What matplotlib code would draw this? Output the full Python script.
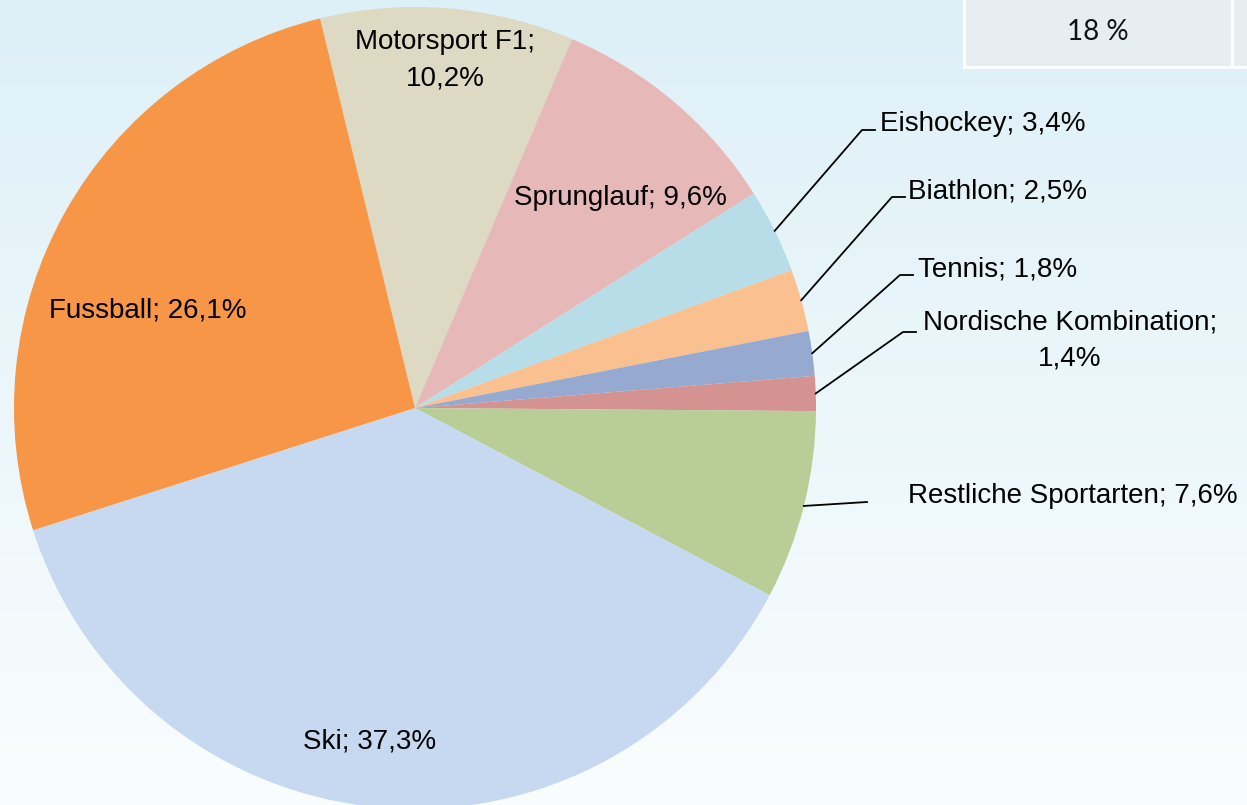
import numpy as np
import matplotlib.pyplot as plt
from matplotlib.patches import Rectangle

plt.rcParams['font.family'] = ['Liberation Sans', 'DejaVu Sans']

# data (shares in percent, clockwise from Motorsport F1)
sports = ["Motorsport F1", "Sprunglauf", "Eishockey", "Biathlon", "Tennis",
          "Nordische Kombination", "Restliche Sportarten", "Ski", "Fussball"]
shares = [10.2, 9.6, 3.4, 2.5, 1.8, 1.4, 7.6, 37.3, 26.1]
share_text = ["10,2%", "9,6%", "3,4%", "2,5%", "1,8%", "1,4%", "7,6%", "37,3%", "26,1%"]
colors = ["#DDD9C3", "#E6B9B8", "#B7DDE8", "#FAC090", "#95A9D1",
          "#D49391", "#B9CD96", "#C6D9F1", "#F79646"]
cell_text = "18 %"

W, H = 1247, 805
fig = plt.figure(figsize=(W / 100, H / 100), dpi=100)
ax = fig.add_axes([0, 0, 1, 1])

# soft blue-to-white background
top = np.array([221, 240, 247]) / 255
bottom = np.array([250, 253, 254]) / 255
t = np.linspace(0, 1, 256)[:, None]
grad = (top * (1 - t) + bottom * t)[:, None, :]
ax.imshow(grad, extent=(0, W, 0, H), aspect='auto', zorder=0)

# pie (pixel coordinates, y up)
cx, cy, R = 415, H - 408, 401
wedges, _ = ax.pie(shares, colors=colors, startangle=103.7, counterclock=False,
                   center=(cx, cy), radius=R, wedgeprops=dict(linewidth=0))
ax.set_xlim(0, W)
ax.set_ylim(0, H)
ax.set_aspect('equal')
ax.axis('off')

fs = 20

# labels inside the slices: (x, last-baseline y) in image pixels
inside = {
    "Motorsport F1": (445, 85, True),
    "Sprunglauf": (620, 205, False),
    "Fussball": (148, 317, False),
    "Ski": (370, 748, False),
}
# labels outside with leader lines: elbow point, text x, baseline y
outside = {
    "Eishockey": ((862, 130), 880, 131),
    "Biathlon": ((892, 197), 908, 198),
    "Tennis": ((900, 275), 918, 276),
    "Nordische Kombination": ((903, 332), 1070, 365),
    "Restliche Sportarten": ((867, 502), 908, 503),
}

for name, pct, w in zip(sports, share_text, wedges):
    if name in inside:
        x, y, wrap = inside[name]
        sep = ";\n" if wrap else "; "
        ax.text(x, H - y, name + sep + pct, ha='center', va='baseline',
                fontsize=fs, linespacing=1.5, zorder=5)
    else:
        (ex, ey), tx, ty = outside[name]
        mid = np.deg2rad((w.theta1 + w.theta2) / 2)
        sx, sy = cx + R * np.cos(mid), cy + R * np.sin(mid)
        xs = [sx, ex]
        ys = [sy, H - ey]
        if name != "Restliche Sportarten":
            xs.append(ex + 13)
            ys.append(H - ey)
        ax.plot(xs, ys, color='black', lw=1.3, zorder=4)
        if name == "Nordische Kombination":
            ax.text(tx, H - ty, name + ";\n" + pct, ha='center', va='baseline',
                    fontsize=fs, linespacing=1.5, zorder=5)
        else:
            ax.text(tx, H - ty, name + "; " + pct, ha='left', va='baseline',
                    fontsize=fs, zorder=5)

# table cell peeking in at the top right
cell_color = "#E6EEF2"
ax.add_patch(Rectangle((963, H - 69), W - 963, 69, facecolor='white',
                       edgecolor='none', zorder=6))
ax.add_patch(Rectangle((966, H - 66), 1231 - 966, 66, facecolor=cell_color,
                       edgecolor='none', zorder=7))
ax.add_patch(Rectangle((1234, H - 66), W - 1234, 66, facecolor=cell_color,
                       edgecolor='none', zorder=7))
ax.text(1098, H - 40, cell_text, ha='center', va='baseline', fontsize=20,
        family=['Lato', 'DejaVu Sans'], color='#111111', zorder=8)

fig.savefig("out.png", dpi=100)
